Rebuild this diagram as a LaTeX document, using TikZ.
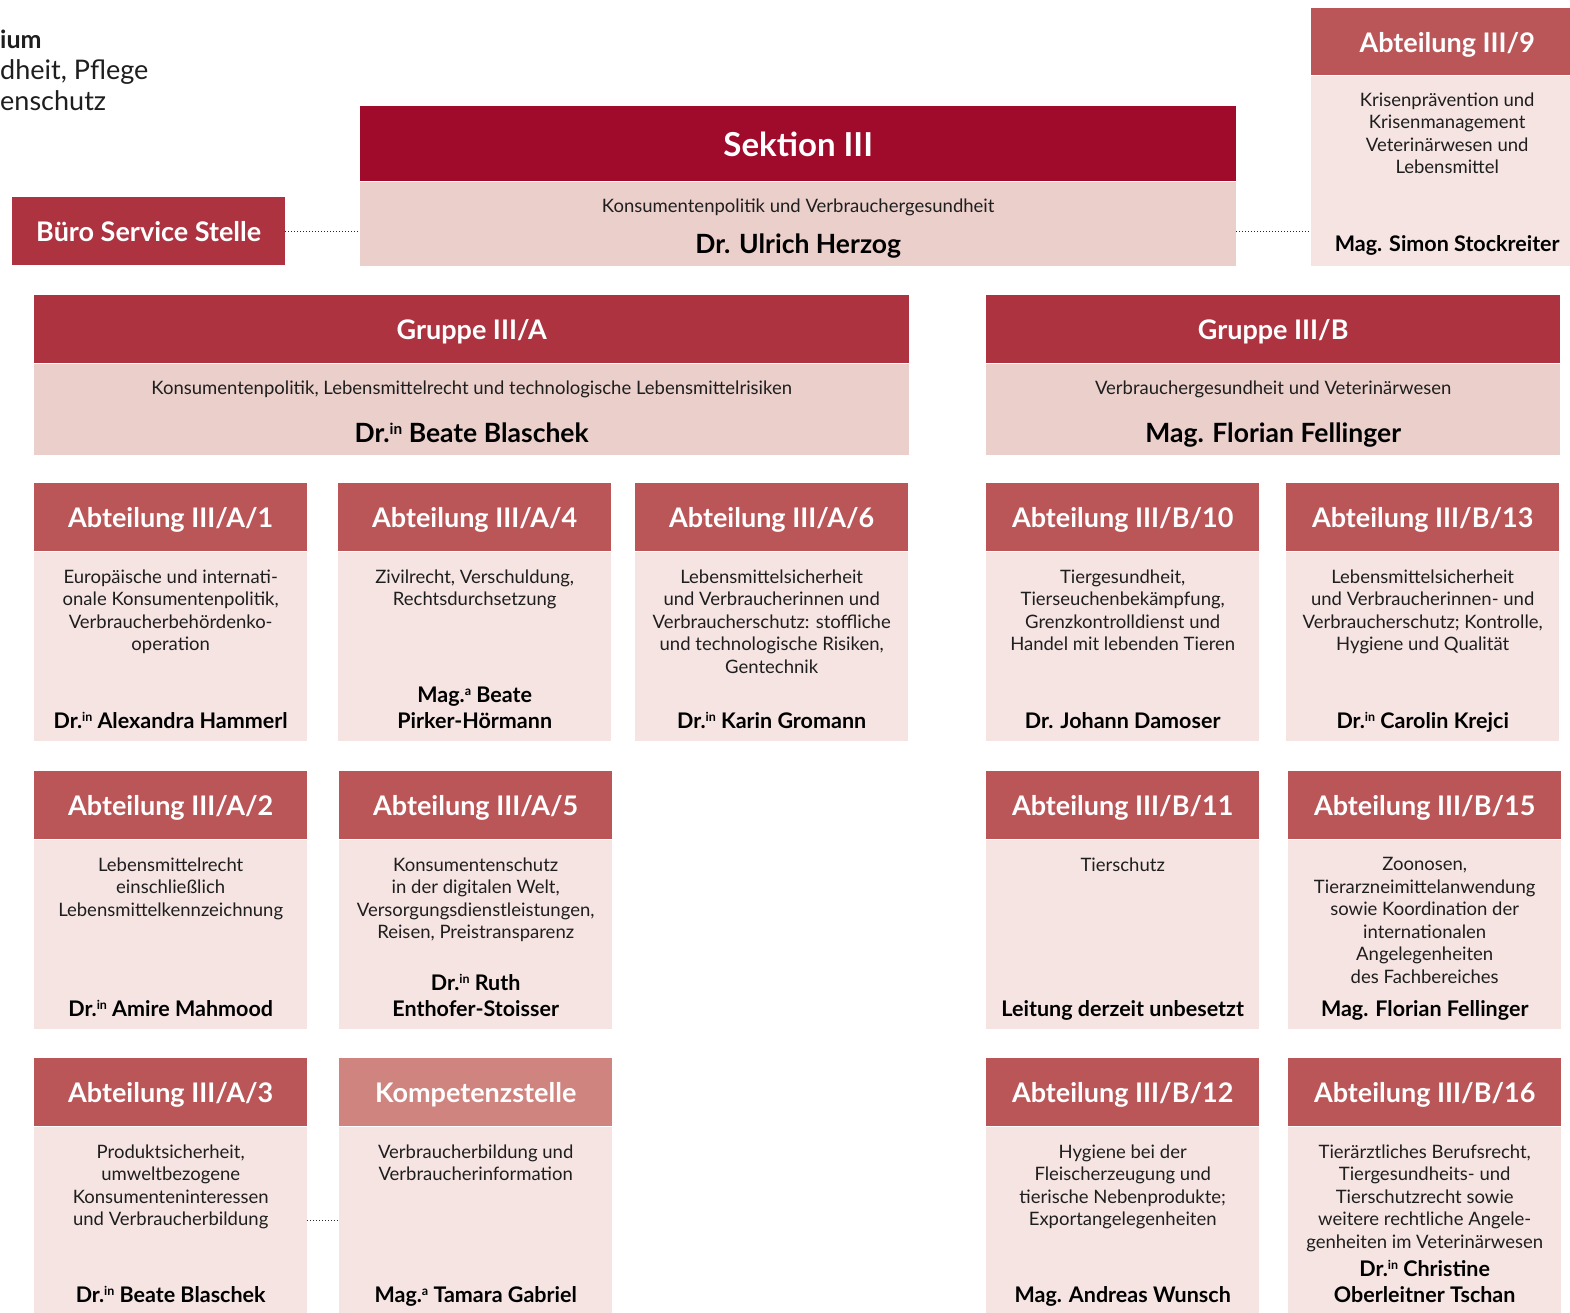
\documentclass[tikz,border=0pt]{standalone}
\usepackage{fontspec}
\setmainfont{Lato}
\usepackage{tikz}
\usetikzlibrary{positioning}
\definecolor{sekRed}{RGB}{160,11,44}
\definecolor{grpRed}{RGB}{172,51,63}
\definecolor{abtRed}{RGB}{186,86,88}
\definecolor{kompRed}{RGB}{207,132,128}
\definecolor{grpPink}{RGB}{235,207,203}
\definecolor{abtPink}{RGB}{245,228,226}
\definecolor{inkGray}{RGB}{30,30,30}
\newcommand{\supText}[1]{\raisebox{0.32em}{\scalebox{0.58}{#1}}}
\tikzset{headStyle/.style={rectangle, fill=abtRed, text=white, inner sep=0pt, text height=21pt, text depth=0pt, minimum width=273pt, minimum height=68pt, anchor=north west, font=\fontsize{27}{32}\selectfont\bfseries}}
\tikzset{bodyStyle/.style={rectangle, fill=abtPink, inner sep=0pt, minimum width=273pt, minimum height=189pt}}
\tikzset{descStyle/.style={align=center, inner sep=0pt, text=inkGray, font=\fontsize{18.5}{22.5}\selectfont}}
\tikzset{nameStyle/.style={align=center, inner sep=0pt, text depth=5pt, text=black, font=\fontsize{21.5}{26}\selectfont\bfseries}}
\tikzset{titleStyle/.style={anchor=base west, inner sep=0pt, text=inkGray, font=\fontsize{27}{31}\selectfont}}
\tikzset{link/.style={dotted, line width=1pt, black!85}}

\begin{document}
\begin{tikzpicture}[x=1pt, y=-1pt]
  \useasboundingbox (0,0) rectangle (1570,1313);

  % title
  \node at (0,49) [titleStyle, font=\fontsize{25}{31}\selectfont\bfseries] (title1) {ium};
  \node at (0,80) [titleStyle] (title2) {dheit, Pflege};
  \node at (0,111) [titleStyle] (title3) {enschutz};

  % sektion
  \node at (360,106) [headStyle, fill=sekRed, minimum width=876pt, minimum height=75pt, text height=25pt, font=\fontsize{33}{38}\selectfont\bfseries] (sektionHead) {Sektion III};
  \node [bodyStyle, fill=grpPink, minimum width=876pt, minimum height=84pt] (sektion) [below=0pt of sektionHead] {};
  \node [descStyle] (sektionDesc) [below=17pt of sektion.north] {Konsumentenpolitik und Verbrauchergesundheit};
  \node [nameStyle, font=\fontsize{26.5}{30}\selectfont\bfseries] (sektionName) [above=7pt of sektion.south] {Dr. Ulrich Herzog};

  \node at (12,197) [headStyle, fill=grpRed] (buero) {Büro Service Stelle};

  \node at (1311,8) [headStyle, minimum width=272pt, minimum height=67pt] (abt9Head) {Abteilung III/9};
  \node [bodyStyle, minimum width=272pt, minimum height=190pt] (abt9) [below=0pt of abt9Head] {};
  \node [descStyle] (abt9Desc) [below=17pt of abt9.north] {Krisenprävention und\\Krisenmanagement\\Veterinärwesen und\\Lebensmittel};
  \node [nameStyle] (abt9Name) [above=9pt of abt9.south] {Mag. Simon Stockreiter};

  % gruppen
  \node at (34,295) [headStyle, fill=grpRed, minimum width=875pt] (grpAHead) {Gruppe III/A};
  \node [bodyStyle, fill=grpPink, minimum width=875pt, minimum height=91pt] (grpA) [below=0pt of grpAHead] {};
  \node [descStyle] (grpADesc) [below=17pt of grpA.north] {Konsumentenpolitik, Lebensmittelrecht und technologische Lebensmittelrisiken};
  \node [nameStyle, font=\fontsize{26.5}{30}\selectfont\bfseries] (grpAName) [above=7pt of grpA.south] {Dr.\supText{in} Beate Blaschek};

  \node at (986,295) [headStyle, fill=grpRed, minimum width=574pt] (grpBHead) {Gruppe III/B};
  \node [bodyStyle, fill=grpPink, minimum width=574pt, minimum height=91pt] (grpB) [below=0pt of grpBHead] {};
  \node [descStyle] (grpBDesc) [below=17pt of grpB.north] {Verbrauchergesundheit und Veterinärwesen};
  \node [nameStyle, font=\fontsize{26.5}{30}\selectfont\bfseries] (grpBName) [above=7pt of grpB.south] {Mag. Florian Fellinger};

  % abteilungen, row 1
  \node at (34,483) [headStyle] (a1Head) {Abteilung III/A/1};
  \node [bodyStyle] (a1) [below=0pt of a1Head] {};
  \node [descStyle] (a1Desc) [below=18pt of a1.north] {Europäische und internati-\\onale Konsumentenpolitik,\\Verbraucherbehördenko-\\operation};
  \node [nameStyle] (a1Name) [above=7pt of a1.south] {Dr.\supText{in} Alexandra Hammerl};

  \node at (338,483) [headStyle] (a4Head) {Abteilung III/A/4};
  \node [bodyStyle] (a4) [below=0pt of a4Head] {};
  \node [descStyle] (a4Desc) [below=18pt of a4.north] {Zivilrecht, Verschuldung,\\Rechtsdurchsetzung};
  \node [nameStyle] (a4Name) [above=7pt of a4.south] {Mag.\supText{a} Beate\\Pirker-Hörmann};

  \node at (635,483) [headStyle] (a6Head) {Abteilung III/A/6};
  \node [bodyStyle] (a6) [below=0pt of a6Head] {};
  \node [descStyle] (a6Desc) [below=18pt of a6.north] {Lebensmittelsicherheit\\und Verbraucherinnen und\\Verbraucherschutz: stoffliche\\und technologische Risiken,\\Gentechnik};
  \node [nameStyle] (a6Name) [above=7pt of a6.south] {Dr.\supText{in} Karin Gromann};

  \node at (986,483) [headStyle] (b10Head) {Abteilung III/B/10};
  \node [bodyStyle] (b10) [below=0pt of b10Head] {};
  \node [descStyle] (b10Desc) [below=18pt of b10.north] {Tiergesundheit,\\Tierseuchenbekämpfung,\\Grenzkontrolldienst und\\Handel mit lebenden Tieren};
  \node [nameStyle] (b10Name) [above=7pt of b10.south] {Dr. Johann Damoser};

  \node at (1286,483) [headStyle] (b13Head) {Abteilung III/B/13};
  \node [bodyStyle] (b13) [below=0pt of b13Head] {};
  \node [descStyle] (b13Desc) [below=18pt of b13.north] {Lebensmittelsicherheit\\und Verbraucherinnen- und\\Verbraucherschutz; Kontrolle,\\Hygiene und Qualität};
  \node [nameStyle] (b13Name) [above=7pt of b13.south] {Dr.\supText{in} Carolin Krejci};

  % row 2
  \node at (34,771) [headStyle] (a2Head) {Abteilung III/A/2};
  \node [bodyStyle] (a2) [below=0pt of a2Head] {};
  \node [descStyle] (a2Desc) [below=18pt of a2.north] {Lebensmittelrecht\\einschließlich\\Lebensmittelkennzeichnung};
  \node [nameStyle] (a2Name) [above=7pt of a2.south] {Dr.\supText{in} Amire Mahmood};

  \node at (339,771) [headStyle] (a5Head) {Abteilung III/A/5};
  \node [bodyStyle] (a5) [below=0pt of a5Head] {};
  \node [descStyle] (a5Desc) [below=18pt of a5.north] {Konsumentenschutz\\in der digitalen Welt,\\Versorgungsdienstleistungen,\\Reisen, Preistransparenz};
  \node [nameStyle] (a5Name) [above=7pt of a5.south] {Dr.\supText{in} Ruth\\Enthofer-Stoisser};

  \node at (986,771) [headStyle] (b11Head) {Abteilung III/B/11};
  \node [bodyStyle] (b11) [below=0pt of b11Head] {};
  \node [descStyle] (b11Desc) [below=18pt of b11.north] {Tierschutz};
  \node [nameStyle] (b11Name) [above=7pt of b11.south] {Leitung derzeit unbesetzt};

  \node at (1288,771) [headStyle] (b15Head) {Abteilung III/B/15};
  \node [bodyStyle] (b15) [below=0pt of b15Head] {};
  \node [descStyle] (b15Desc) [below=18pt of b15.north] {Zoonosen,\\Tierarzneimittelanwendung\\sowie Koordination der\\internationalen\\Angelegenheiten\\des Fachbereiches};
  \node [nameStyle] (b15Name) [above=7pt of b15.south] {Mag. Florian Fellinger};

  % row 3
  \node at (34,1058) [headStyle] (a3Head) {Abteilung III/A/3};
  \node [bodyStyle, minimum height=188pt] (a3) [below=0pt of a3Head] {};
  \node [descStyle] (a3Desc) [below=18pt of a3.north] {Produktsicherheit,\\umweltbezogene\\Konsumenteninteressen\\und Verbraucherbildung};
  \node [nameStyle] (a3Name) [above=7pt of a3.south] {Dr.\supText{in} Beate Blaschek};

  \node at (339,1058) [headStyle, fill=kompRed] (kompHead) {Kompetenzstelle};
  \node [bodyStyle, minimum height=188pt] (komp) [below=0pt of kompHead] {};
  \node [descStyle] (kompDesc) [below=18pt of komp.north] {Verbraucherbildung und\\Verbraucherinformation};
  \node [nameStyle] (kompName) [above=7pt of komp.south] {Mag.\supText{a} Tamara Gabriel};

  \node at (986,1058) [headStyle] (b12Head) {Abteilung III/B/12};
  \node [bodyStyle, minimum height=188pt] (b12) [below=0pt of b12Head] {};
  \node [descStyle] (b12Desc) [below=18pt of b12.north] {Hygiene bei der\\Fleischerzeugung und\\tierische Nebenprodukte;\\Exportangelegenheiten};
  \node [nameStyle] (b12Name) [above=7pt of b12.south] {Mag. Andreas Wunsch};

  \node at (1288,1058) [headStyle] (b16Head) {Abteilung III/B/16};
  \node [bodyStyle, minimum height=188pt] (b16) [below=0pt of b16Head] {};
  \node [descStyle] (b16Desc) [below=18pt of b16.north] {Tierärztliches Berufsrecht,\\Tiergesundheits- und\\Tierschutzrecht sowie\\weitere rechtliche Angele-\\genheiten im Veterinärwesen};
  \node [nameStyle] (b16Name) [above=7pt of b16.south] {Dr.\supText{in} Christine\\Oberleitner Tschan};

  % lines
  \draw [link] (buero.east) -- (buero.east -| sektion.west);
  \draw [link] (sektion.east |- buero.east) -- (abt9.west |- buero.east);
  \draw [link] (a3.east) -- (komp.west);
\end{tikzpicture}
\end{document}
